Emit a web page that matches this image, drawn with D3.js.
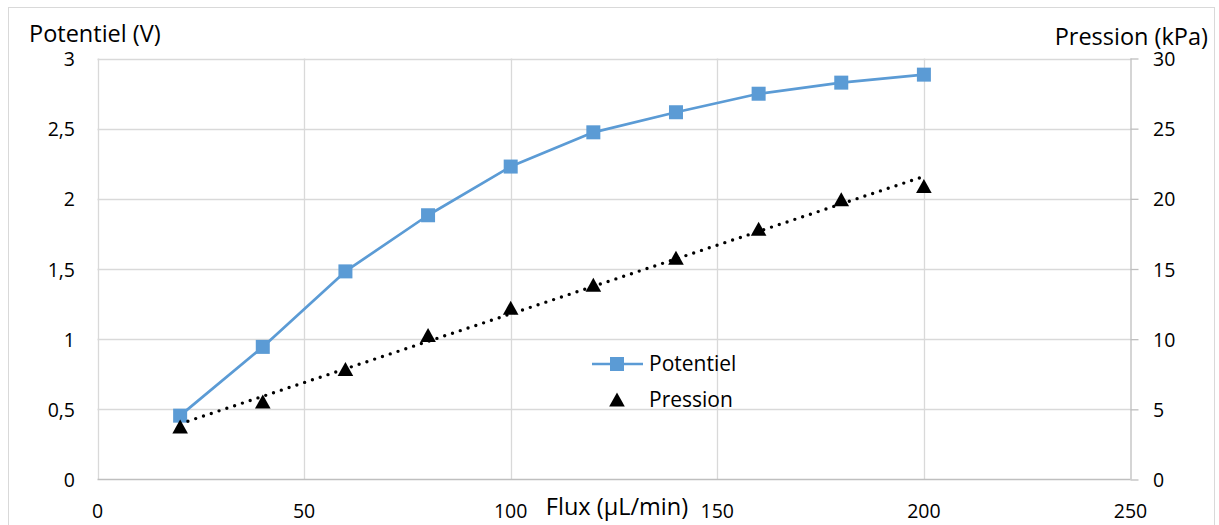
<!DOCTYPE html>
<html>
<head>
<meta charset="utf-8">
<script src="https://cdn.jsdelivr.net/npm/d3@7/dist/d3.min.js"></script>
<style>
  html, body { margin: 0; padding: 0; background: #fff; }
  svg { display: block; font-family: "Open Sans", sans-serif; }
</style>
</head>
<body>
<svg id="chart" width="1219" height="525"></svg>
<script>
// Flow rate (µL/min)
const flux = [20, 40, 60, 80, 100, 120, 140, 160, 180, 200];
// Output voltage (V), left axis
const potentiel = [0.455, 0.945, 1.483, 1.883, 2.23, 2.474, 2.617, 2.749, 2.828, 2.885];
// Pressure drop (kPa), right axis
const pression = [3.75, 5.53, 7.83, 10.26, 12.2, 13.84, 15.77, 17.84, 19.94, 20.87];

const xTicks = [0, 50, 100, 150, 200, 250];
const leftTicks = [0, 0.5, 1, 1.5, 2, 2.5, 3];
const rightTicks = [0, 5, 10, 15, 20, 25, 30];

const svg = d3.select("#chart");
const plot = { left: 97.5, right: 1130.5, top: 58.5, bottom: 479.5 };

const x = d3.scaleLinear().domain([0, 250]).range([plot.left, plot.right]);
const yL = d3.scaleLinear().domain([0, 3]).range([plot.bottom, plot.top]);
const yR = d3.scaleLinear().domain([0, 30]).range([plot.bottom, plot.top]);

const fmt = d => String(d).replace(".", ",");

// chart frame
svg.append("rect")
  .attr("x", 8.5).attr("y", 7.5).attr("width", 1206).attr("height", 530)
  .attr("fill", "none").attr("stroke", "#d9d9d9").attr("stroke-width", 1);

// gridlines
const grid = svg.append("g").attr("stroke", "#d9d9d9").attr("stroke-width", 1.3);
grid.selectAll(".h").data(leftTicks.slice(1)).join("line")
  .attr("x1", plot.left).attr("x2", plot.right)
  .attr("y1", d => Math.round(yL(d)) + 0.5).attr("y2", d => Math.round(yL(d)) + 0.5);
grid.selectAll(".v").data(xTicks.slice(0, -1)).join("line")
  .attr("y1", plot.top).attr("y2", plot.bottom)
  .attr("x1", d => Math.round(x(d)) + 0.5).attr("x2", d => Math.round(x(d)) + 0.5);

// x axis baseline
svg.append("line")
  .attr("x1", plot.left).attr("x2", plot.right)
  .attr("y1", plot.bottom).attr("y2", plot.bottom)
  .attr("stroke", "#bfbfbf").attr("stroke-width", 1.3);

// right axis with outward ticks
const rightAxis = d3.axisRight(yR).tickValues(rightTicks).tickSize(8).tickFormat("");
const gR = svg.append("g").attr("transform", `translate(${plot.right},0)`).call(rightAxis);
gR.selectAll("path, line").attr("stroke", "#bfbfbf").attr("stroke-width", 1.3);
gR.select(".domain").attr("d", `M0.5,${plot.top}V${plot.bottom}`);

// tick labels
const tickFont = 19.5;
svg.append("g").selectAll("text").data(xTicks).join("text")
  .attr("x", d => x(d)).attr("y", 518)
  .attr("text-anchor", "middle").attr("font-size", tickFont).attr("fill", "#000")
  .text(d => d);
svg.append("g").selectAll("text").data(leftTicks).join("text")
  .attr("x", 75).attr("y", d => yL(d) + 7.5)
  .attr("text-anchor", "end").attr("font-size", tickFont).attr("fill", "#000")
  .text(fmt);
svg.append("g").selectAll("text").data(rightTicks).join("text")
  .attr("x", 1153).attr("y", d => yR(d) + 7.5)
  .attr("text-anchor", "start").attr("font-size", tickFont).attr("fill", "#000")
  .text(d => d);

// axis titles
const titleFont = 23.5;
svg.append("text").attr("x", 29).attr("y", 42)
  .attr("font-size", titleFont).text("Potentiel (V)");
svg.append("text").attr("x", 1208).attr("y", 45).attr("text-anchor", "end")
  .attr("font-size", titleFont).text("Pression (kPa)");
svg.append("text").attr("x", 617).attr("y", 515).attr("text-anchor", "middle")
  .attr("font-size", titleFont).text("Flux (µL/min)");

const blue = "#5b9bd5";
const triPath = "M0,-7.5L7.8,6.5L-7.8,6.5Z";

// Potentiel series
const potData = flux.map((f, i) => [f, potentiel[i]]);
svg.append("path").datum(potData)
  .attr("fill", "none").attr("stroke", blue).attr("stroke-width", 2.7)
  .attr("stroke-linejoin", "round")
  .attr("d", d3.line().x(d => x(d[0])).y(d => yL(d[1])));
svg.append("g").selectAll("rect").data(potData).join("rect")
  .attr("x", d => x(d[0]) - 7).attr("y", d => yL(d[1]) - 7)
  .attr("width", 14).attr("height", 14).attr("fill", blue);

// Pression series: markers plus least-squares linear trendline
const presData = flux.map((f, i) => [f, pression[i]]);
const mx = d3.mean(flux), my = d3.mean(pression);
const slope = d3.sum(presData, d => (d[0] - mx) * (d[1] - my)) /
              d3.sum(flux, f => (f - mx) * (f - mx));
const icpt = my - slope * mx;
const trend = d3.extent(flux).map(f => [f, icpt + slope * f]);

svg.append("g").selectAll("path").data(presData).join("path")
  .attr("transform", d => `translate(${x(d[0])},${yR(d[1])})`)
  .attr("d", triPath).attr("fill", "#000");
svg.append("path").datum(trend)
  .attr("fill", "none").attr("stroke", "#000").attr("stroke-width", 3.4)
  .attr("stroke-linecap", "round").attr("stroke-dasharray", "0 8.2")
  .attr("d", d3.line().x(d => x(d[0])).y(d => yR(d[1])));

// legend
const legendFont = 21;
const lg = svg.append("g");
lg.append("line").attr("x1", 592).attr("x2", 643).attr("y1", 364).attr("y2", 364)
  .attr("stroke", blue).attr("stroke-width", 2.7);
lg.append("rect").attr("x", 610).attr("y", 357).attr("width", 14).attr("height", 14).attr("fill", blue);
lg.append("text").attr("x", 649).attr("y", 371).attr("font-size", legendFont).text("Potentiel");
lg.append("path").attr("transform", "translate(617,400)").attr("d", triPath).attr("fill", "#000");
lg.append("text").attr("x", 649).attr("y", 407).attr("font-size", legendFont).text("Pression");
</script>
</body>
</html>
